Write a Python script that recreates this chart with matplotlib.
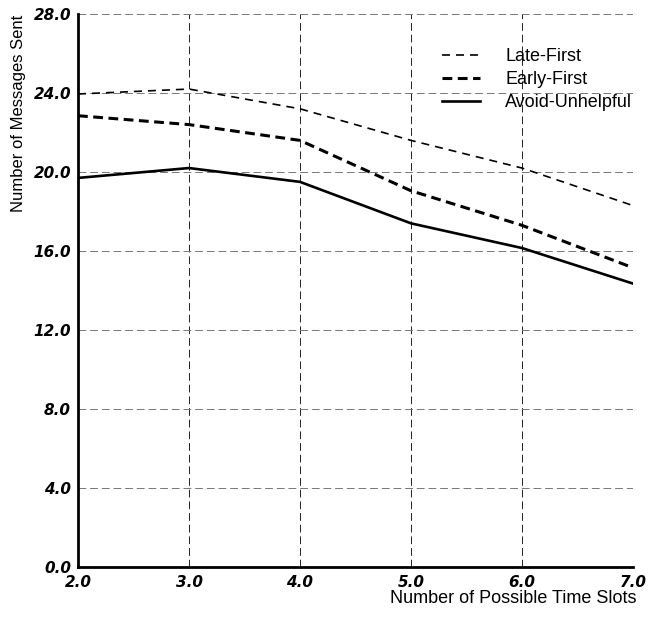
import numpy as np
import matplotlib.pyplot as plt

plt.rcParams['font.family'] = ['Liberation Sans', 'DejaVu Sans']

slots = [2, 3, 4, 5, 6, 7]
late_first = [23.95, 24.2, 23.2, 21.6, 20.2, 18.3]
early_first = [22.85, 22.4, 21.6, 19.05, 17.3, 15.15]
avoid_unhelpful = [19.7, 20.2, 19.5, 17.4, 16.15, 14.35]

fig = plt.figure(figsize=(6.51, 6.18), dpi=100)
ax = fig.add_axes([78 / 651, 1 - 567 / 618, 555 / 651, 553 / 618])

ax.plot(slots, late_first, color='black', lw=1.2, dashes=(4.8, 3.6), label='Late-First')
ax.plot(slots, early_first, color='black', lw=2.2, dashes=(3.2, 1.8), label='Early-First')
ax.plot(slots, avoid_unhelpful, color='black', lw=1.9, label='Avoid-Unhelpful')

ax.set_xlim(2, 7)
ax.set_ylim(0, 28)
ax.set_xticks(np.arange(2, 8, 1))
ax.set_yticks(np.arange(0, 29, 4))
tick_font = dict(family='DejaVu Sans', fontsize=11, fontweight='bold', style='oblique')
ax.set_xticklabels(['%.1f' % v for v in range(2, 8)], **tick_font)
ax.set_yticklabels(['%.1f' % v for v in range(0, 29, 4)], **tick_font)
ax.tick_params(axis='x', length=0, pad=6)
ax.tick_params(axis='y', length=0, pad=5)

ax.xaxis.grid(True, color='#222222', lw=0.7, dashes=(8, 4))
ax.yaxis.grid(True, color='#777777', lw=0.7, dashes=(8, 4))
for s in ['top', 'right']:
    ax.spines[s].set_visible(False)
ax.spines['left'].set_linewidth(2.0)
ax.spines['bottom'].set_linewidth(2.0)

fig.text(19 / 651, 1 - 15 / 618, 'Number of Messages Sent', rotation=90,
         ha='center', va='top', fontsize=12)
fig.text(636 / 651, 1 - 603 / 618, 'Number of Possible Time Slots',
         ha='right', va='baseline', fontsize=13)

ax.legend(loc='upper left', bbox_to_anchor=(435 / 651, 1 - 41 / 618),
          bbox_transform=fig.transFigure, frameon=False, fontsize=13,
          handlelength=2.1, handletextpad=1.4, labelspacing=0.33, borderaxespad=0)

fig.savefig('out.png', dpi=100)
